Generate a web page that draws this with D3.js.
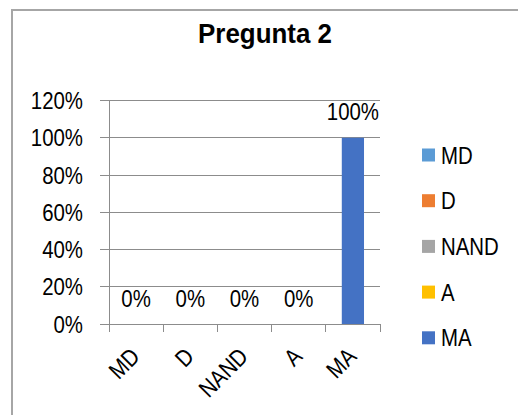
<!DOCTYPE html>
<html><head><meta charset="utf-8">
<script src="https://cdn.jsdelivr.net/npm/d3@7"></script>
<style>body{margin:0;background:#fff}svg{display:block}</style>
</head><body><svg id="c" width="518" height="415"></svg>
<script>
const categories = ["MD","D","NAND","A","MA"];
const values = [0,0,0,0,1];
const legendNames = ["MD","D","NAND","A","MA"];
const legendColors = ["#5B9BD5","#ED7D31","#A5A5A5","#FFC000","#4472C4"];
const yTicks = [0,0.2,0.4,0.6,0.8,1.0,1.2];
const title = "Pregunta 2";

const font = "'Liberation Sans',Arial,sans-serif";
const FS = 24, SX = 0.85;
const svg = d3.select("#c");
// outer border
svg.append("rect").attr("x",12).attr("y",10).attr("width",520).attr("height",420)
  .attr("fill","none").attr("stroke","#A6A6A6").attr("stroke-width",2);

const t = svg.append("text").attr("text-anchor","middle")
  .attr("font-family",font).attr("font-weight","bold").attr("font-size",27)
  .text(title);
const tw = t.node().getComputedTextLength();
t.attr("transform",`translate(265,43) scale(${134/tw},1)`);

const x = d3.scaleBand().domain(categories).range([109,380]);
const y = d3.scaleLinear().domain([0,1.2]).range([324,100.5]);
const f = d3.format(".0%");

// gridlines
svg.append("g").selectAll("line").data(yTicks).join("line")
  .attr("x1",100).attr("x2",380).attr("y1",d=>y(d)).attr("y2",d=>y(d))
  .attr("stroke","#8C8C8C").attr("stroke-width",1).attr("shape-rendering","crispEdges");
// y axis line
svg.append("line").attr("x1",109).attr("x2",109).attr("y1",y(1.2)).attr("y2",y(0))
  .attr("stroke","#8C8C8C").attr("shape-rendering","crispEdges");
// y labels
svg.append("g").selectAll("text").data(yTicks).join("text")
  .attr("transform",d=>`translate(83,${y(d)}) scale(${SX},1)`).attr("dy","0.36em").attr("text-anchor","end")
  .attr("font-family",font).attr("font-size",FS).attr("fill","#000").text(d=>f(d));
// x ticks
const bounds = categories.map(c=>x(c)).concat([x.range()[1]]);
svg.append("g").selectAll("line").data(bounds).join("line")
  .attr("x1",d=>d).attr("x2",d=>d).attr("y1",y(0)).attr("y2",y(0)+8)
  .attr("stroke","#8C8C8C").attr("shape-rendering","crispEdges");
// bars
const bw = x.bandwidth()*0.41;
svg.append("g").selectAll("rect").data(categories).join("rect")
  .attr("x",(d)=>x(d)+x.bandwidth()/2-bw/2).attr("width",bw)
  .attr("y",(d,i)=>y(values[i])).attr("height",(d,i)=>y(0)-y(values[i]))
  .attr("fill","#4472C4");
// data labels
svg.append("g").selectAll("text").data(categories).join("text")
  .attr("transform",(d,i)=>`translate(${x(d)+x.bandwidth()/2},${values[i]===0 ? 307 : y(values[i])-17.5}) scale(${SX},1)`)
  .attr("text-anchor","middle").attr("font-family",font).attr("font-size",FS)
  .text((d,i)=>f(values[i]));
// x labels
svg.append("g").selectAll("text").data(categories).join("text")
  .attr("transform",d=>`translate(${x(d)+x.bandwidth()/2+5},${y(0)+34}) rotate(-45) scale(${SX},1)`)
  .attr("text-anchor","end")
  .attr("font-family",font).attr("font-size",FS).text(d=>d);
// legend
const lg = svg.append("g").selectAll("g").data(legendNames).join("g")
  .attr("transform",(d,i)=>`translate(422,${155+i*45.7})`);
lg.append("rect").attr("x",0).attr("y",-6.5).attr("width",13).attr("height",13)
  .attr("fill",(d,i)=>legendColors[i]);
lg.append("text").attr("transform",`translate(19,0) scale(${SX},1)`).attr("dy","0.36em")
  .attr("font-family",font).attr("font-size",FS).text(d=>d);
</script></body></html>
